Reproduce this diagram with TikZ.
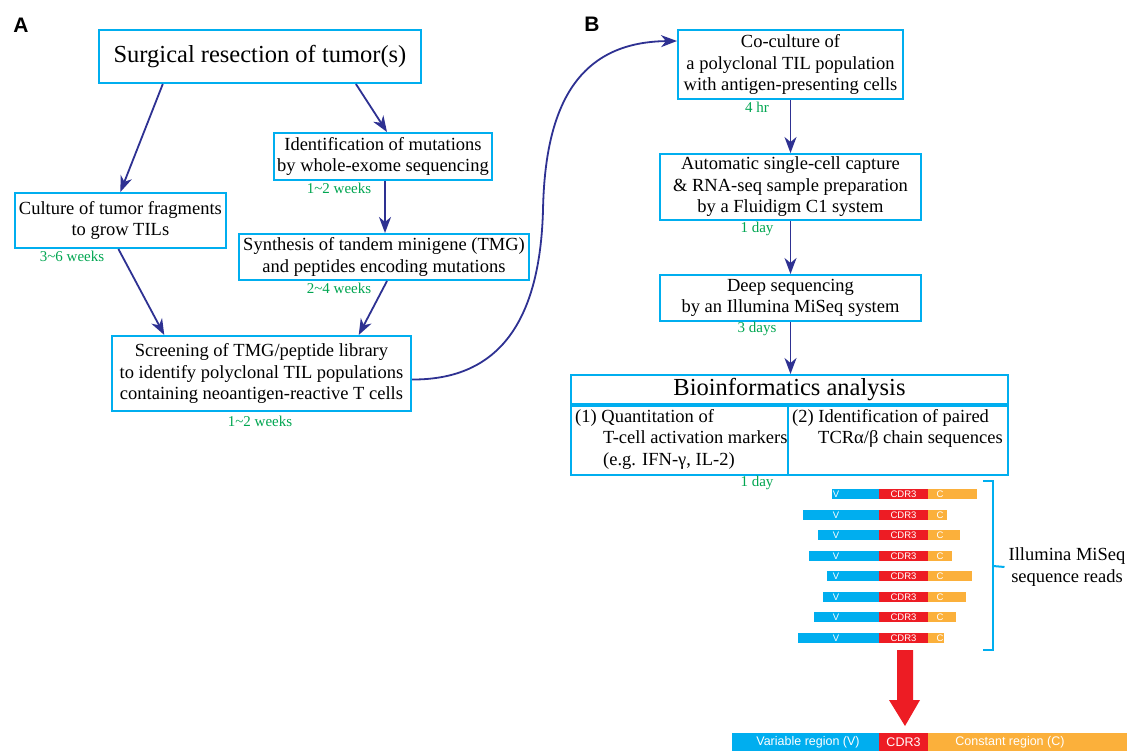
\documentclass[tikz,border=0pt]{standalone}
\usepackage{fontspec}
\setmainfont{Liberation Serif}
\newfontfamily\arialfont{Liberation Sans}
\usetikzlibrary{arrows.meta,calc}
\definecolor{boxcyan}{RGB}{0,174,239}
\definecolor{arrblue}{RGB}{46,49,146}
\definecolor{tgreen}{RGB}{0,166,81}
\definecolor{cdrred}{RGB}{237,28,36}
\definecolor{corange}{RGB}{251,176,59}
\definecolor{vblue}{RGB}{0,174,239}
\begin{document}
\begin{tikzpicture}[x=1pt,y=-1pt,
 box/.style={draw=boxcyan,line width=2pt,fill=white,inner sep=0pt,align=center,font=\fontsize{18.5}{21.5}\selectfont},
 big/.style={box,font=\fontsize{24.5}{28}\selectfont},
 flow/.style={draw=arrblue,line width=1.8pt,-{Stealth[length=16pt,width=12pt,inset=5pt]}},
 dur/.style={text=tgreen,font=\fontsize{15}{17}\selectfont,inner sep=0pt},
 panel/.style={font=\arialfont\bfseries\fontsize{21}{24}\selectfont,inner sep=0pt},
 btxt/.style={font=\fontsize{18.5}{21.5}\selectfont,inner sep=0pt,anchor=base west},
 rlab/.style={text=white,font=\arialfont\fontsize{9.5}{10}\selectfont,inner sep=0pt},
 blab/.style={text=white,font=\arialfont\fontsize{12.5}{14}\selectfont,inner sep=0pt},
 brk/.style={draw=boxcyan,line width=2pt},
]
\useasboundingbox (0,0) rectangle (1127,751);
\fill[white] (0,0) rectangle (1127,751);

% panel labels
\node[panel] (pa) at (21,25) {A};
\node[panel] (pb) at (592,24.5) {B};

% panel A
\node[big,minimum width=322pt,minimum height=53pt] (surg) at (260,56.5) {Surgical resection of tumor(s)};
\node[box,minimum width=218pt,minimum height=47pt] (ident) at (383,156.5) {Identification of mutations\\by whole-exome sequencing};
\node[box,minimum width=211pt,minimum height=55pt] (cult) at (120.4,220.5) {Culture of tumor fragments\\to grow TILs};
\node[box,minimum width=290pt,minimum height=46pt] (synth) at (384,257) {Synthesis of tandem minigene (TMG)\\and peptides encoding mutations};
\node[box,minimum width=299pt,minimum height=75pt] (screen) at (261.5,373.5) {Screening of TMG/peptide library\\to identify polyclonal TIL populations\\containing neoantigen-reactive T cells};

\node[dur] (d1) at (339,188) {1\textasciitilde2 weeks};
\node[dur] (d2) at (72,256) {3\textasciitilde6 weeks};
\node[dur] (d3) at (339,288) {2\textasciitilde4 weeks};
\node[dur] (d4) at (260,421) {1\textasciitilde2 weeks};

\draw[flow] ($(surg.south west)!0.2!(surg.south east)$) -- (cult.north);
\draw[flow] ($(surg.south west)!0.796!(surg.south east)$) -- ($(ident.north)+(4,0)$);
\draw[flow] ($(ident.south)+(2,0)$) -- ($(synth.north)+(1,0)$);
\draw[flow] ($(cult.south)+(-2,0)$) -- ($(screen.north west)!0.177!(screen.north east)$);
\draw[flow] ($(synth.south)+(3,0)$) -- ($(screen.north west)!0.823!(screen.north east)$);

% panel B
\node[box,minimum width=225pt,minimum height=69pt] (co) at (790.5,64.5) {Co-culture of\\a polyclonal TIL population\\with antigen-presenting cells};
\node[box,minimum width=261pt,minimum height=66pt] (auto) at (790.5,187) {Automatic single-cell capture\\\& RNA-seq sample preparation\\by a Fluidigm C1 system};
\node[box,minimum width=261pt,minimum height=46pt] (deep) at (790.5,298) {Deep sequencing\\by an Illumina MiSeq system};
\node[big,minimum width=437pt,minimum height=29pt] (bioh) at (789.5,389.5) {Bioinformatics analysis};
\node[box,minimum width=217pt,minimum height=69pt,anchor=north west] (bio1) at (bioh.south west) {};
\node[box,minimum width=220pt,minimum height=69pt,anchor=north east] (bio2) at (bioh.south east) {};

\node[btxt] (q1) at (575,422) {(1) Quantitation of};
\node[btxt] (q2) at (603,443.5) {T-cell activation markers};
\node[btxt] (q3) at (603,465) {(e.g. IFN-γ, IL-2)};
\node[btxt] (p1) at (792,422) {(2) Identification of paired};
\node[btxt] (p2) at (818,443.5) {TCRα/β chain sequences};

\node[dur] (d5) at (757,107) {4 hr};
\node[dur] (d6) at (757,229) {1 day};
\node[dur] (d7) at (757,329) {3 days};
\node[dur] (d8) at (757,483) {1 day};

\draw[flow] (co.south) -- (co.south |- auto.north);
\draw[flow] (auto.south) -- (auto.south |- deep.north);
\draw[flow] (deep.south) -- (deep.south |- bioh.north);

\draw[flow] ($(screen.east)+(0,6)$) .. controls (500,380) and (540,320) .. (543,210) .. controls (545,110) and (575,42) .. ($(co.north west)+(0,12)$);

% sequence reads
\foreach \l/\r/\yy [count=\i] in {832/977/494, 803/947/515, 818/960/535, 809/952/556, 827/972/576, 823/966/597, 814/956/617, 798/944/638}{
  \fill[vblue] (\l,\yy-5) rectangle (879,\yy+5);
  \fill[cdrred] (879,\yy-5) rectangle (928,\yy+5);
  \fill[corange] (928,\yy-5) rectangle (\r,\yy+5);
  \node[rlab] (v\i) at (836,\yy) {V};
  \node[rlab] (cd\i) at (903.5,\yy) {CDR3};
  \node[rlab] (c\i) at (940,\yy) {C};
}
\draw[brk] (983,481) -- (993,481) -- (993,650) -- (983,650);
\node[align=center,inner sep=0pt,font=\fontsize{18.5}{21.5}\selectfont] (reads) at (1067,567) {Illumina MiSeq\\sequence reads};
\draw[brk] (993,566) -- ($(reads.west)+(-4,0)$);

% big red arrow
\fill[cdrred] (897,650) -- (913,650) -- (913,700) -- (920,700) -- (905,726) -- (889,700) -- (897,700) -- cycle;

% consensus bar
\fill[vblue] (732,733) rectangle (879,751);
\fill[cdrred] (879,733) rectangle (928,751);
\fill[corange] (928,733) rectangle (1127,751);
\node[blab] (bv) at (808,742.5) {Variable region (V)};
\node[blab] (bc) at (903.5,742.5) {CDR3};
\node[blab] (bk) at (1010,742.5) {Constant region (C)};
\end{tikzpicture}
\end{document}
